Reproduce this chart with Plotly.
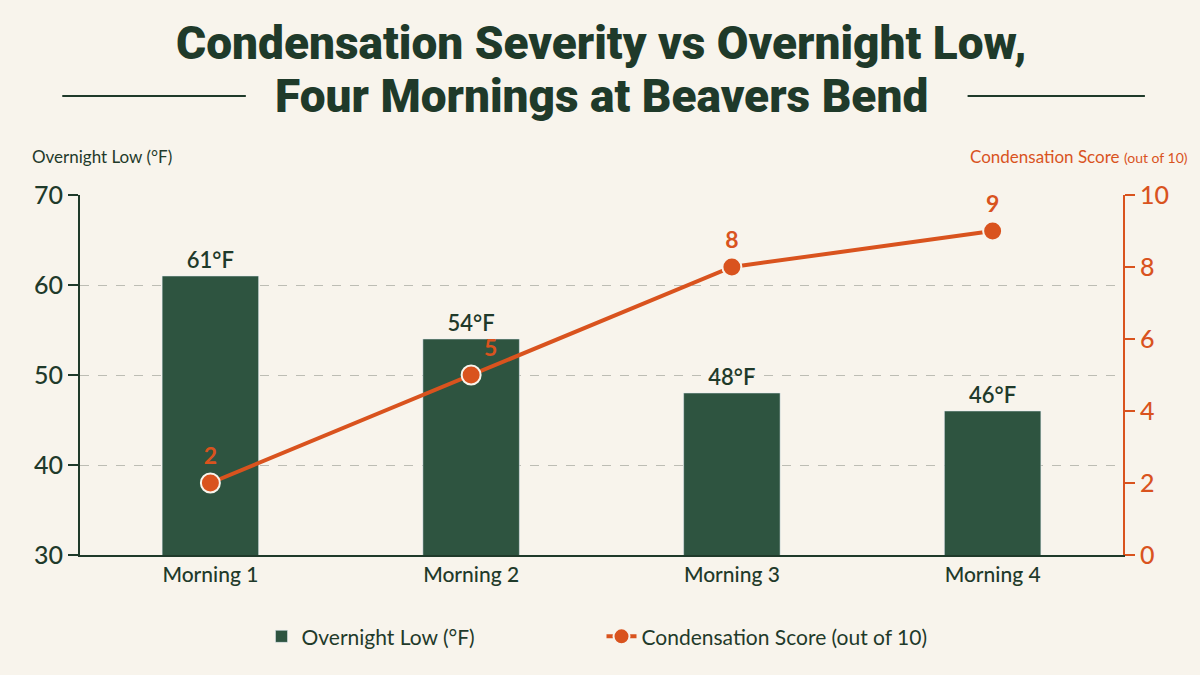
import plotly.graph_objects as go

# chart data
mornings = ["Morning 1", "Morning 2", "Morning 3", "Morning 4"]
overnight_low = [61, 54, 48, 46]
condensation_score = [2, 5, 8, 9]
left_ticks = [30, 40, 50, 60, 70]
right_ticks = [0, 2, 4, 6, 8, 10]
title_lines = ["Condensation Severity vs Overnight Low,", "Four Mornings at Beavers Bend"]

GREEN = "#2E5440"
DARK = "#1F3A2A"
ORANGE = "#D9531E"
BG = "#F8F4EC"

fig = go.Figure()

fig.add_trace(go.Bar(
    x=mornings, y=overnight_low, name="Overnight Low (°F)",
    marker=dict(color=GREEN), width=0.37,
    text=[f"{v}°F" for v in overnight_low], textposition="outside",
    textfont=dict(size=22, color=DARK, weight=600), cliponaxis=False,
))

fig.add_trace(go.Scatter(
    x=mornings, y=condensation_score, name="Condensation Score (out of 10)",
    yaxis="y2", mode="lines+markers+text",
    line=dict(color=ORANGE, width=4),
    marker=dict(color=ORANGE, size=19, line=dict(color=BG, width=2)),
    text=[str(v) for v in condensation_score],
    textposition=["top center", "top right", "top center", "top center"],
    textfont=dict(size=23, color=ORANGE, weight="bold"),
    cliponaxis=False,
))

fig.update_layout(
    width=1200, height=675,
    paper_bgcolor=BG, plot_bgcolor=BG,
    font=dict(family="Lato", color=DARK),
    margin=dict(l=80, r=77, t=195, b=120),
    xaxis=dict(
        showline=True, linecolor=DARK, linewidth=2,
        tickfont=dict(size=21, color=DARK, weight=500), showgrid=False,
    ),
    yaxis=dict(
        range=[30, 70], tickvals=left_ticks,
        showline=True, linecolor=DARK, linewidth=2,
        ticks="outside", ticklen=10, tickcolor=DARK, tickwidth=2,
        tickfont=dict(size=25, color=DARK, weight=500),
        showgrid=True, gridcolor="#BDBDB4", griddash="dash", gridwidth=1,
        zeroline=False,
    ),
    yaxis2=dict(
        range=[0, 10], tickvals=right_ticks, overlaying="y", side="right",
        showline=True, linecolor=ORANGE, linewidth=2,
        ticks="outside", ticklen=10, tickcolor=ORANGE, tickwidth=2,
        tickfont=dict(size=25, color=ORANGE, weight=500),
        showgrid=False, zeroline=False,
    ),
    showlegend=True,
    legend=dict(
        orientation="h", x=0.5, xanchor="center", y=-0.17, yanchor="top",
        font=dict(size=21, color=DARK), bgcolor="rgba(0,0,0,0)",
        entrywidth=295,
    ),
)

# two-line title
for line, ty in zip(title_lines, [1.422, 1.275]):
    fig.add_annotation(
        text=line, xref="paper", yref="paper", x=0.5, y=ty,
        xanchor="center", yanchor="middle", showarrow=False,
        font=dict(family="Roboto", size=46, color=DARK, weight=900),
    )

fig.add_annotation(
    text="Overnight Low (°F)", xref="paper", yref="paper",
    x=-0.048, y=1.106, xanchor="left", yanchor="middle", showarrow=False,
    font=dict(size=17, color=DARK),
)
fig.add_annotation(
    text="Condensation Score <span style='font-size:14px'>(out of 10)</span>",
    xref="paper", yref="paper",
    x=1.064, y=1.106, xanchor="right", yanchor="middle", showarrow=False,
    font=dict(size=17, color=ORANGE),
)

# decorative rules beside the second title line
for x0, x1 in [(-0.017, 0.159), (0.851, 1.021)]:
    fig.add_shape(type="line", xref="paper", yref="paper", x0=x0, x1=x1,
                  y0=1.275, y1=1.275, line=dict(color=DARK, width=2))

fig.write_html("out.html", config={"displayModeBar": False},
               post_script="document.body.style.margin='0';")
